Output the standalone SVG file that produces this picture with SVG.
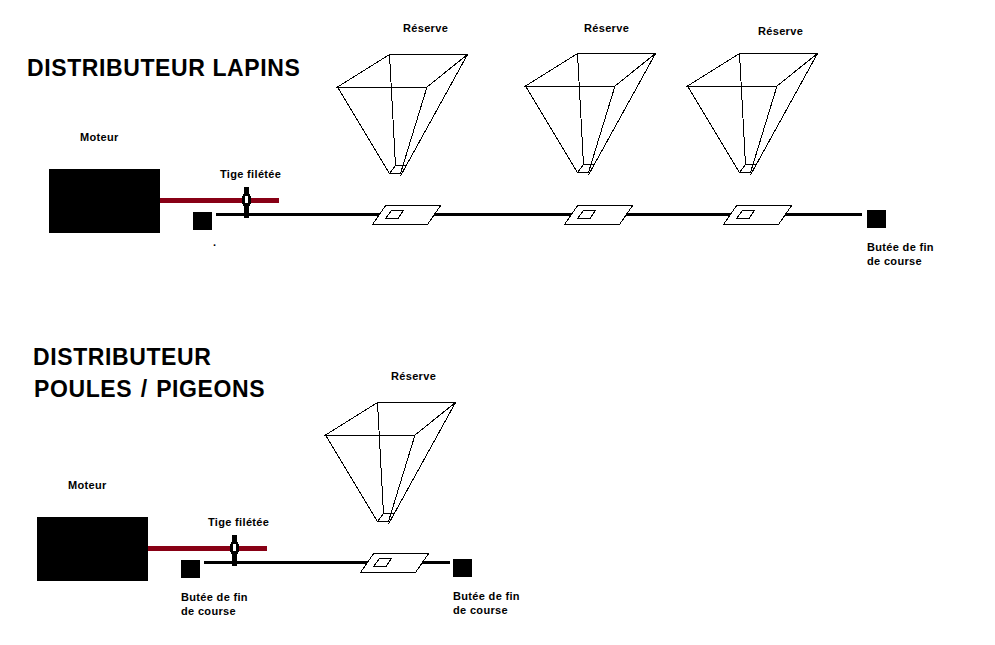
<svg xmlns="http://www.w3.org/2000/svg" width="995" height="645" viewBox="0 0 995 645">
<style>
text{font-family:"Liberation Sans",Arial,sans-serif;font-weight:bold;fill:#000}
.t{font-size:23px;letter-spacing:.6px;word-spacing:1.5px}
.s{font-size:11px;letter-spacing:.33px}
.w{fill:none;stroke:#000;stroke-width:1;shape-rendering:crispEdges}
.p{fill:#fff;stroke:#000;stroke-width:1;shape-rendering:crispEdges}
.rail{stroke:#000;stroke-width:3;fill:none;shape-rendering:crispEdges}
.rod{stroke:#880015;stroke-width:5;fill:none;shape-rendering:crispEdges}
.k{fill:#000;shape-rendering:crispEdges}
</style>
<defs>
<g id="hopper">
<path class="w" d="M389.5 54.5H467.5L427 87H337.5ZM337.5 87L389.5 173.5H400.5L427 87M389.5 54.5L395.5 165.5H406.5M467.5 54.5L400.5 176M395.5 165.5L389.5 173.5"/>
</g>
<g id="plate">
<path class="p" d="M386 205H441L427.5 224.5H372.5Z"/>
<path class="w" d="M391.5 210.5H403.5L398 218.5H385.5Z"/>
</g>
<g id="clamp">
<path class="k" d="M244 187H249V193L251 197V203L249 207V218H244V207L242 203V197L244 193Z"/>
<rect x="245" y="196" width="2.5" height="7" fill="#fff" shape-rendering="crispEdges"/>
</g>
</defs>
<rect width="995" height="645" fill="#fff"/>
<g id="connectors">
<path class="rail" d="M216 214.5H862"/>
<path class="rail" d="M204 562.5H450"/>
<path class="rod" d="M160 200.5H279"/>
<path class="rod" d="M148 548.5H267"/>
</g>
<g id="title-lapins"><text class="t" x="27" y="76" style="word-spacing:0">DISTRIBUTEUR LAPINS</text></g>
<g id="title-poules"><text class="t" x="33" y="365">DISTRIBUTEUR</text><text class="t" x="34" y="397">POULES / PIGEONS</text></g>
<g id="moteur-1"><rect class="k" x="49" y="169" width="111" height="64"/><text class="s" x="80" y="141">Moteur</text></g>
<g id="moteur-2"><rect class="k" x="37" y="517" width="111" height="64"/><text class="s" x="68" y="489">Moteur</text></g>
<g id="tige-1"><use href="#clamp"/><text class="s" x="220" y="178">Tige filétée</text></g>
<g id="tige-2"><use href="#clamp" transform="translate(-12 348)"/><text class="s" x="208" y="526">Tige filétée</text></g>
<g id="butee-1"><rect class="k" x="193" y="212" width="19" height="18"/><text class="s" x="213" y="246">.</text></g>
<g id="butee-2"><rect class="k" x="867" y="210" width="19" height="18"/><text class="s" x="867" y="251">Butée de fin</text><text class="s" x="867" y="265">de course</text></g>
<g id="butee-3"><rect class="k" x="181" y="560" width="19" height="18"/><text class="s" x="181" y="601">Butée de fin</text><text class="s" x="181" y="615">de course</text></g>
<g id="butee-4"><rect class="k" x="453" y="559" width="19" height="18"/><text class="s" x="453" y="600">Butée de fin</text><text class="s" x="453" y="614">de course</text></g>
<g id="reserve-1"><use href="#hopper"/><text class="s" x="403" y="32">Réserve</text></g>
<g id="reserve-2"><use href="#hopper" transform="translate(188 -1)"/><text class="s" x="584" y="32">Réserve</text></g>
<g id="reserve-3"><use href="#hopper" transform="translate(350 -1)"/><text class="s" x="758" y="35">Réserve</text></g>
<g id="reserve-4"><use href="#hopper" transform="translate(-12 348)"/><text class="s" x="391" y="380">Réserve</text></g>
<g id="plaque-1"><use href="#plate"/></g>
<g id="plaque-2"><use href="#plate" transform="translate(192 0)"/></g>
<g id="plaque-3"><use href="#plate" transform="translate(351 0)"/></g>
<g id="plaque-4"><use href="#plate" transform="translate(-12 348)"/></g>
</svg>
